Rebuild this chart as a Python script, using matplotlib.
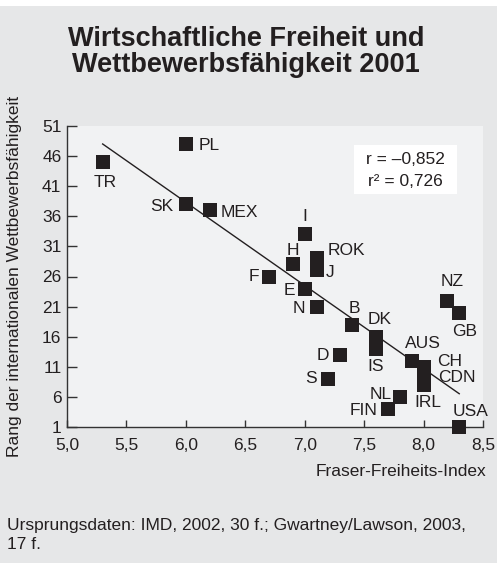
import numpy as np
import matplotlib.pyplot as plt
from matplotlib.patches import Rectangle

plt.rcParams['font.family'] = ['Liberation Sans', 'DejaVu Sans']

# Länder, Fraser-Index (x) und IMD-Rang (y)
countries = ["TR", "PL", "SK", "MEX", "F", "H", "I", "ROK", "J", "E", "N", "B",
             "DK", "IS", "D", "S", "AUS", "CH", "CDN", "IRL", "NL", "FIN", "USA",
             "NZ", "GB"]
fraser = [5.3, 6.0, 6.0, 6.2, 6.7, 6.9, 7.0, 7.1, 7.1, 7.0, 7.1, 7.4,
          7.6, 7.6, 7.3, 7.2, 7.9, 8.0, 8.0, 8.0, 7.8, 7.7, 8.3,
          8.2, 8.3]
rank = [45, 48, 38, 37, 26, 28, 33, 29, 27, 24, 21, 18,
        16, 14, 13, 9, 12, 11, 10, 8, 6, 4, 1,
        22, 20]

xticks = [5.0, 5.5, 6.0, 6.5, 7.0, 7.5, 8.0, 8.5]
xticklabels = ["5,0", "5,5", "6,0", "6,5", "7,0", "7,5", "8,0", "8,5"]
yticks = [1, 6, 11, 16, 21, 26, 31, 36, 41, 46, 51]

# label placement: offset in pixels (dx, dy up) and horizontal alignment
label_pos = {
    "TR": (3, -20, "center"), "PL": (13, -1, "left"), "SK": (-13, -2, "right"),
    "MEX": (11, -2, "left"), "F": (-10, 0, "right"), "H": (0, 14, "center"),
    "I": (0, 18, "center"), "ROK": (11, 8, "left"), "J": (9, -2, "left"),
    "E": (-10, -2, "right"), "N": (-11, -2, "right"), "B": (2, 16, "center"),
    "DK": (4, 17, "center"), "IS": (0, -18, "center"), "D": (-11, -1, "right"),
    "S": (-12, 0, "right"), "AUS": (11, 17, "center"), "CH": (14, 5, "left"),
    "CDN": (15, -5, "left"), "IRL": (4, -18, "center"), "NL": (-8, 2, "right"),
    "FIN": (-10, -2, "right"), "USA": (11, 15, "center"), "NZ": (5, 19, "center"),
    "GB": (5, -19, "center"),
}

dark = '#231f20'
fs = 12.5
fig = plt.figure(figsize=(4.97, 5.63), dpi=100, facecolor='#e6e7e8')
fig.patches.append(Rectangle((0, 1 - 6/563), 1, 6/563, transform=fig.transFigure,
                             facecolor='white', edgecolor='none', zorder=0))
ax = fig.add_axes([67/497, 136/563, 416/497, 301/563])
ax.set_facecolor('#f1f2f3')

# regression line
slope, icpt = np.polyfit(fraser, rank, 1)
xl = np.array([min(fraser), max(fraser)])
ax.plot(xl, slope * xl + icpt, color=dark, lw=1.0, zorder=2)

ax.scatter(fraser, rank, marker='s', s=95, color=dark, linewidths=0,
           zorder=4, clip_on=False)

for c, x, y in zip(countries, fraser, rank):
    dx, dy, ha = label_pos[c]
    ax.annotate(c, (x, y), xytext=(dx, dy), textcoords='offset pixels',
                ha=ha, va='center', fontsize=fs, color=dark)

ax.set_xlim(5.0, 8.5)
ax.set_ylim(1, 51)
ax.set_xticks(xticks)
ax.set_xticklabels(xticklabels)
ax.set_yticks(yticks)
for s in ['top', 'right']:
    ax.spines[s].set_visible(False)
for s in ['left', 'bottom']:
    ax.spines[s].set_color('#333333')
    ax.spines[s].set_linewidth(1.0)
ax.tick_params(axis='y', direction='in', length=7, width=1, color='#333333',
               labelsize=fs, labelcolor=dark, pad=4)
ax.tick_params(axis='x', direction='in', length=5, width=1, color='#333333',
               labelsize=fs, labelcolor=dark, pad=8)

# r box
ax.add_patch(Rectangle((0.690, 0.774), 0.2475, 0.163, transform=ax.transAxes,
                       facecolor='white', edgecolor='none', zorder=3))
ax.text(0.814, 0.889, "r = \u20130,852", transform=ax.transAxes, ha='center',
        va='center', fontsize=fs, color=dark, zorder=5)
ax.text(0.814, 0.814, "r\u00b2 = 0,726", transform=ax.transAxes, ha='center',
        va='center', fontsize=fs, color=dark, zorder=5)

fig.text(0.495, 1 - 26/563, "Wirtschaftliche Freiheit und\nWettbewerbsfähigkeit 2001",
         ha='center', va='top', fontsize=19.5, fontweight='bold', color=dark,
         linespacing=1.0)
fig.text(15/497, 1 - 276/563, "Rang der internationalen Wettbewerbsfähigkeit",
         rotation=90, ha='center', va='center', fontsize=fs, color=dark)
fig.text(486/497, 1 - 472/563, "Fraser-Freiheits-Index", ha='right', va='center',
         fontsize=fs, color=dark)
fig.text(7/497, 1 - 518/563,
         "Ursprungsdaten: IMD, 2002, 30 f.; Gwartney/Lawson, 2003,\n17 f.",
         ha='left', va='top', fontsize=fs, color=dark, linespacing=1.35)

fig.savefig('out.png', dpi=100, facecolor=fig.get_facecolor())
